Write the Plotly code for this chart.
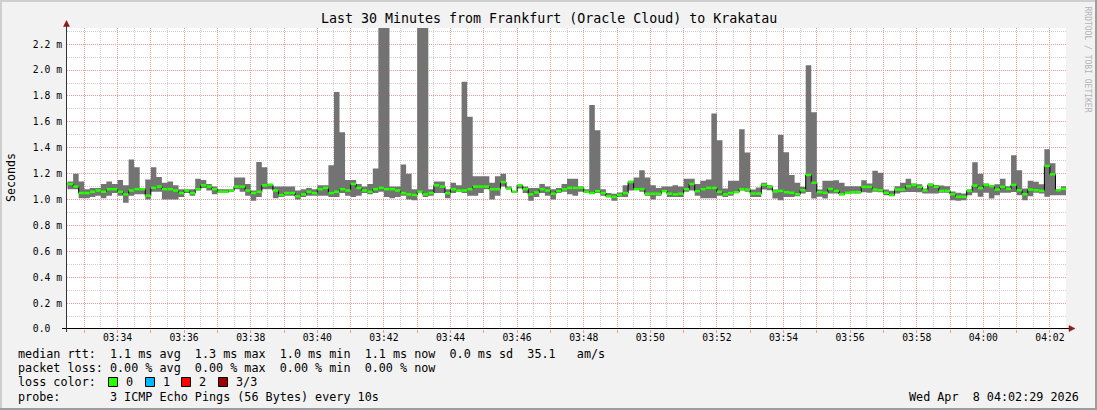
import plotly.graph_objects as go
import pandas as pd

# ---------------- data (values in milliseconds, one step = 10 s) ----------------
START = "2026-04-08 03:32:30"
STEP = "10s"

rtt_max = [
    1.14, 1.20, 1.14, 1.08, 1.09, 1.09, 1.12, 1.14, 1.12, 1.15,
    1.11, 1.31, 1.25, 1.09, 1.155, 1.25, 1.175, 1.13, 1.14, 1.11,
    1.08, 1.08, 1.08, 1.16, 1.15, 1.12, 1.10, 1.08, 1.08, 1.08,
    1.17, 1.17, 1.12, 1.07, 1.29, 1.25, 1.12, 1.10, 1.10, 1.10,
    1.10, 1.07, 1.08, 1.09, 1.08, 1.11, 1.11, 1.265, 1.83, 1.52,
    1.15, 1.15, 1.12, 1.10, 1.12, 1.24, 2.60, 2.55, 1.10, 1.10,
    1.27, 1.20, 1.08, 2.70, 2.50, 1.08, 1.14, 1.14, 1.08, 1.13,
    1.11, 1.91, 1.64, 1.18, 1.18, 1.18, 1.13, 1.18, 1.20, 1.10,
    1.065, 1.11, 1.10, 1.09, 1.09, 1.12, 1.10, 1.08, 1.09, 1.12,
    1.16, 1.16, 1.10, 1.08, 1.73, 1.535, 1.08, 1.05, 1.045, 1.055,
    1.11, 1.145, 1.17, 1.227, 1.17, 1.11, 1.09, 1.10, 1.10, 1.11,
    1.10, 1.16, 1.16, 1.12, 1.145, 1.155, 1.665, 1.457, 1.085, 1.145,
    1.145, 1.543, 1.363, 1.077, 1.093, 1.129, 1.11, 1.077, 1.50, 1.365,
    1.19, 1.129, 1.098, 2.038, 1.675, 1.077, 1.145, 1.145, 1.149, 1.129,
    1.103, 1.103, 1.103, 1.149, 1.124, 1.222, 1.206, 1.077, 1.067, 1.103,
    1.129, 1.16, 1.124, 1.119, 1.085, 1.124, 1.113, 1.108, 1.103, 1.062,
    1.052, 1.046, 1.077, 1.288, 1.20, 1.124, 1.098, 1.119, 1.16, 1.103,
    1.342, 1.226, 1.085, 1.145, 1.137, 1.119, 1.389, 1.28, 1.077, 1.103,
]

rtt_min = [
    1.08, 1.08, 1.01, 1.01, 1.02, 1.03, 1.01, 1.03, 1.05, 1.03,
    0.975, 1.03, 1.04, 1.04, 1.00, 1.06, 1.06, 1.00, 1.00, 1.00,
    1.02, 1.05, 1.03, 1.07, 1.09, 1.07, 1.04, 1.05, 1.05, 1.06,
    1.08, 1.06, 1.03, 0.99, 1.02, 1.08, 1.08, 1.01, 1.02, 1.03,
    1.03, 1.00, 1.02, 1.03, 1.03, 1.03, 1.03, 1.02, 1.02, 1.05,
    1.03, 1.02, 1.03, 1.05, 1.04, 1.05, 1.06, 1.02, 1.01, 1.02,
    1.03, 1.00, 0.995, 1.05, 1.02, 1.03, 1.05, 1.05, 1.01, 1.05,
    1.06, 1.05, 1.03, 1.03, 1.05, 1.08, 1.00, 1.03, 1.10, 1.08,
    1.055, 1.085, 1.05, 0.99, 1.02, 1.05, 1.03, 1.00, 1.05, 1.06,
    1.04, 1.03, 1.06, 1.05, 1.05, 1.05, 1.03, 1.02, 0.99, 1.02,
    1.02, 1.07, 1.08, 1.06, 1.03, 1.00, 1.03, 1.06, 1.02, 1.02,
    1.02, 1.06, 1.07, 1.03, 1.01, 1.01, 1.01, 1.03, 1.02, 1.03,
    1.06, 1.07, 1.06, 1.02, 1.02, 1.077, 1.072, 1.008, 0.995, 1.02,
    1.02, 1.026, 1.046, 1.059, 1.008, 1.021, 1.008, 1.046, 1.046, 1.034,
    1.046, 1.046, 1.046, 1.057, 1.052, 1.06, 1.057, 1.034, 1.026, 1.046,
    1.057, 1.059, 1.059, 1.057, 1.046, 1.046, 1.046, 1.052, 1.052, 0.995,
    0.99, 0.995, 1.034, 1.052, 1.021, 1.052, 1.008, 1.034, 1.052, 1.052,
    1.059, 1.034, 0.995, 1.026, 1.052, 1.046, 1.021, 1.034, 1.034, 1.034,
]

rtt_median = [
    1.12, 1.10, 1.05, 1.05, 1.06, 1.07, 1.06, 1.08, 1.08, 1.06,
    1.04, 1.07, 1.08, 1.08, 1.03, 1.09, 1.10, 1.08, 1.08, 1.07,
    1.05, 1.07, 1.05, 1.08, 1.11, 1.10, 1.08, 1.06, 1.06, 1.07,
    1.10, 1.10, 1.07, 1.05, 1.06, 1.11, 1.115, 1.07, 1.035, 1.05,
    1.05, 1.025, 1.04, 1.06, 1.05, 1.08, 1.09, 1.05, 1.06, 1.08,
    1.07, 1.12, 1.09, 1.07, 1.06, 1.08, 1.09, 1.08, 1.08, 1.07,
    1.05, 1.04, 1.035, 1.06, 1.04, 1.05, 1.11, 1.10, 1.05, 1.08,
    1.07, 1.07, 1.08, 1.10, 1.10, 1.10, 1.08, 1.08, 1.135, 1.085,
    1.06, 1.11, 1.08, 1.04, 1.055, 1.08, 1.07, 1.045, 1.065, 1.08,
    1.09, 1.09, 1.09, 1.06, 1.05, 1.065, 1.05, 1.025, 1.02, 1.035,
    1.05, 1.135, 1.08, 1.08, 1.045, 1.045, 1.045, 1.065, 1.045, 1.04,
    1.045, 1.08, 1.12, 1.065, 1.08, 1.09, 1.09, 1.06, 1.04, 1.05,
    1.057, 1.08, 1.077, 1.046, 1.046, 1.113, 1.098, 1.062, 1.067, 1.057,
    1.052, 1.041, 1.072, 1.19, 1.13, 1.057, 1.052, 1.082, 1.067, 1.041,
    1.052, 1.057, 1.057, 1.098, 1.098, 1.077, 1.072, 1.052, 1.036, 1.077,
    1.077, 1.103, 1.113, 1.098, 1.07, 1.113, 1.098, 1.067, 1.067, 1.041,
    1.021, 1.021, 1.067, 1.108, 1.088, 1.113, 1.103, 1.077, 1.098, 1.082,
    1.113, 1.072, 1.041, 1.077, 1.072, 1.067, 1.26, 1.195, 1.072, 1.082,
]

X_RANGE = ["2026-04-08 03:32:29", "2026-04-08 04:02:29"]
x_grid_minutes = ["03:%02d" % m for m in range(33, 60)] + ["04:00", "04:01", "04:02"]
x_tick_labels = ["03:34", "03:36", "03:38", "03:40", "03:42", "03:44", "03:46",
                 "03:48", "03:50", "03:52", "03:54", "03:56", "03:58", "04:00", "04:02"]
y_tick_values = [0.0, 0.2, 0.4, 0.6, 0.8, 1.0, 1.2, 1.4, 1.6, 1.8, 2.0, 2.2]
y_tick_labels = ["0.0  ", "0.2 m", "0.4 m", "0.6 m", "0.8 m", "1.0 m", "1.2 m",
                 "1.4 m", "1.6 m", "1.8 m", "2.0 m", "2.2 m"]
Y_MAX = 2.325

title_text = "Last 30 Minutes from Frankfurt (Oracle Cloud) to Krakatau"
legend_line1 = "median rtt:  1.1 ms avg  1.3 ms max  1.0 ms min  1.1 ms now  0.0 ms sd  35.1   am/s"
legend_line2 = "packet loss: 0.00 % avg  0.00 % max  0.00 % min  0.00 % now"
legend_line3 = "loss color:"
loss_labels = ["0", "1", "2", "3/3"]
loss_colors = ["#26FF00", "#00B8FF", "#FF0000", "#A00000"]
legend_line4 = "probe:       3 ICMP Echo Pings (56 Bytes) every 10s"
stamp_text = "Wed Apr  8 04:02:29 2026"
side_text = "RRDTOOL / TOBI OETIKER"

# ---------------- geometry helpers ----------------
W, H = 1097, 410
PL, PR, PT, PB = 67, 1066, 28, 329
MONO = "DejaVu Sans Mono"


def xp(px):
    return (px - PL) / (PR - PL)


def yp(py):
    return (PB - py) / (PB - PT)


def nb(s):
    return s.replace(" ", "\u00a0")


day = START.split(" ")[0]
n = len(rtt_median)
edges = pd.date_range(START, periods=n + 1, freq=STEP)

fig = go.Figure()

# smoke (min..max band)
fig.add_trace(go.Scatter(x=edges, y=rtt_min + [rtt_min[-1]], mode="lines",
                         line=dict(width=0, shape="hv", color="#737373"),
                         hoverinfo="skip", showlegend=False))
fig.add_trace(go.Scatter(x=edges, y=rtt_max + [rtt_max[-1]], mode="lines",
                         line=dict(width=0, shape="hv", color="#737373"),
                         fill="tonexty", fillcolor="#737373",
                         hoverinfo="skip", showlegend=False))
# median: black step connectors
fig.add_trace(go.Scatter(x=edges, y=rtt_median + [rtt_median[-1]], mode="lines",
                         line=dict(width=1, shape="hv", color="#000000"),
                         hoverinfo="skip", showlegend=False))
# median: green segments (loss color 0)
gx, gy = [], []
for i, m in enumerate(rtt_median):
    gx += [edges[i], edges[i + 1], None]
    gy += [m, m, None]
fig.add_trace(go.Scatter(x=gx, y=gy, mode="lines",
                         line=dict(width=2.5, color=loss_colors[0]),
                         hoverinfo="skip", showlegend=False))

GRID_MAJ = "#EE9A9A"
GRID_MIN = "#CFCFCF"

fig.update_layout(
    width=W, height=H, autosize=False,
    margin=dict(l=PL, r=W - PR, t=PT, b=H - PB, pad=0),
    paper_bgcolor="#F2F2F2", plot_bgcolor="#FFFFFF",
    showlegend=False,
    xaxis=dict(
        type="date", range=X_RANGE,
        tickvals=[f"{day} {t}:00" for t in x_grid_minutes],
        ticktext=[t if t in x_tick_labels else "" for t in x_grid_minutes],
        ticks="outside", ticklen=3, tickcolor=GRID_MAJ, tickwidth=1,
        ticklabelstandoff=-4,
        tickfont=dict(family=MONO, size=9.7, color="#000000"),
        showgrid=True, gridcolor=GRID_MAJ, gridwidth=1, griddash="1px,1px",
        minor=dict(dtick=30000, tick0=f"{day} 03:32:30", showgrid=True,
                   gridcolor=GRID_MIN, gridwidth=1, griddash="1px,1px"),
        showline=False, zeroline=False, fixedrange=True,
    ),
    yaxis=dict(
        range=[0, Y_MAX],
        tickvals=y_tick_values, ticktext=[nb(t) for t in y_tick_labels],
        ticks="", ticklabelstandoff=4,
        tickfont=dict(family=MONO, size=9.7, color="#000000"),
        showgrid=True, gridcolor=GRID_MAJ, gridwidth=1, griddash="1px,1px",
        minor=dict(dtick=0.1, tick0=0, showgrid=True, gridcolor=GRID_MIN,
                   gridwidth=1, griddash="1px,1px"),
        showline=False, zeroline=False, fixedrange=True,
    ),
)

shapes = []
# outer 3D frame
shapes.append(dict(type="rect", xref="paper", yref="paper", x0=xp(0), x1=xp(W), y0=yp(0), y1=yp(2),
                   fillcolor="#CFCFCF", line_width=0, layer="above"))
shapes.append(dict(type="rect", xref="paper", yref="paper", x0=xp(0), x1=xp(2), y0=yp(0), y1=yp(H),
                   fillcolor="#CFCFCF", line_width=0, layer="above"))
shapes.append(dict(type="rect", xref="paper", yref="paper", x0=xp(0), x1=xp(W), y0=yp(H - 2), y1=yp(H),
                   fillcolor="#9E9E9E", line_width=0, layer="above"))
shapes.append(dict(type="rect", xref="paper", yref="paper", x0=xp(W - 2), x1=xp(W), y0=yp(0), y1=yp(H),
                   fillcolor="#9E9E9E", line_width=0, layer="above"))
# axes with arrows
shapes.append(dict(type="line", xref="paper", yref="paper", x0=xp(62), x1=xp(1070), y0=yp(328.5), y1=yp(328.5),
                   line=dict(color="#000000", width=1), layer="above"))
shapes.append(dict(type="line", xref="paper", yref="paper", x0=xp(66.5), x1=xp(66.5), y0=yp(332), y1=yp(25),
                   line=dict(color="#333333", width=1), layer="above"))
ARROW = "#8B1A1A"
shapes.append(dict(type="path", xref="paper", yref="paper",
                   path=f"M {xp(66.5)},{yp(20.5)} L {xp(63.5)},{yp(26.5)} L {xp(69.5)},{yp(26.5)} Z",
                   fillcolor=ARROW, line=dict(color=ARROW, width=0.5), layer="above"))
shapes.append(dict(type="path", xref="paper", yref="paper",
                   path=f"M {xp(1075)},{yp(328.5)} L {xp(1069)},{yp(325.5)} L {xp(1069)},{yp(331.5)} Z",
                   fillcolor=ARROW, line=dict(color=ARROW, width=0.5), layer="above"))
# legend colour boxes
box_x = [108.5, 145.5, 181.5, 218.5]
for bx, col in zip(box_x, loss_colors):
    shapes.append(dict(type="rect", xref="paper", yref="paper", x0=xp(bx), x1=xp(bx + 9),
                       y0=yp(386.5), y1=yp(377.5), fillcolor=col,
                       line=dict(color="#000000", width=1), layer="above"))
fig.update_layout(shapes=shapes)

ann = []
def text(px, py, s, size=11.75, anchor="left", color="#000000", angle=0, yanchor="middle"):
    ann.append(dict(xref="paper", yref="paper", x=xp(px), y=yp(py), text=nb(s), showarrow=False,
                    xanchor=anchor, yanchor=yanchor, textangle=angle,
                    font=dict(family=MONO, size=size, color=color)))

text(548.5, 19, title_text, size=13.3, anchor="center")
text(10.5, 177.5, "Seconds", size=11.6, anchor="center", angle=-90)
text(1087.5, 59, side_text, size=8, anchor="center", color="#B4B4B4", angle=90)
text(16, 354, legend_line1)
text(16, 368, legend_line2)
text(16, 382, legend_line3)
for bx, lab in zip(box_x, loss_labels):
    text(bx + 15, 382, lab)
text(16, 396.5, legend_line4)
text(1081, 396.5, stamp_text, anchor="right")
fig.update_layout(annotations=ann)

fig.write_html("out.html", config={"displayModeBar": False},
               post_script="document.body.style.margin='0';document.body.style.overflow='hidden';")
